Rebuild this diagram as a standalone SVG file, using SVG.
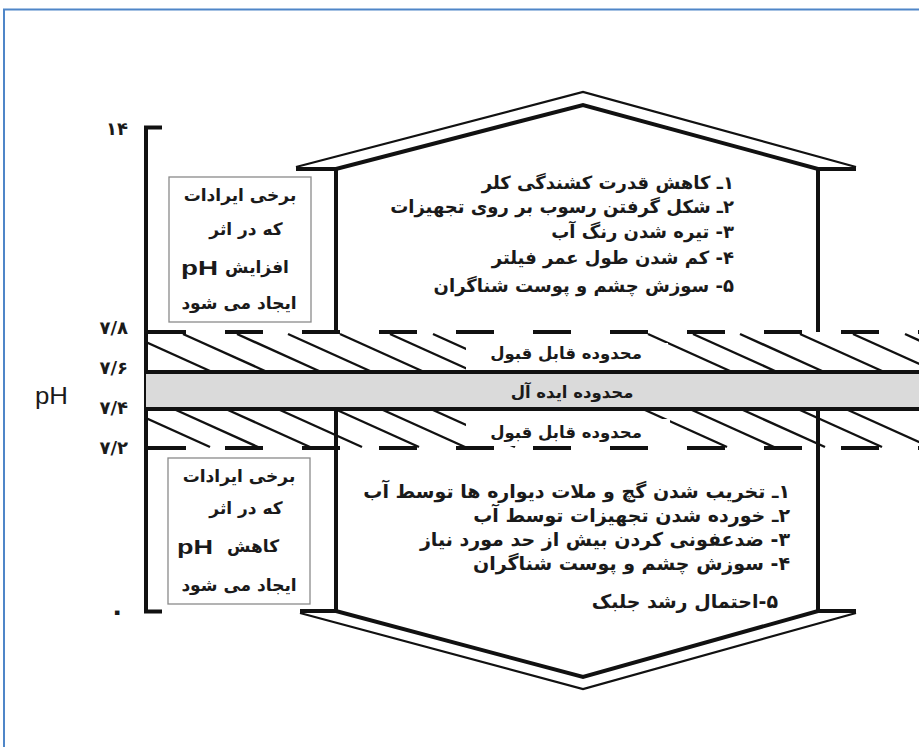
<svg xmlns="http://www.w3.org/2000/svg" width="919" height="747" viewBox="0 0 919 747">
<style>
.fa{font-family:"DejaVu Sans",sans-serif;font-weight:bold;fill:#1a1a1a;}
.lst{font-size:18px;direction:rtl;}
.lst2{font-size:19px;direction:rtl;}
.box{fill:#fff;stroke:#8a8a8a;stroke-width:1.3;}
.bx{font-size:17px;text-anchor:middle;direction:rtl;}
.ax{font-size:18px;text-anchor:end;}
.thk{stroke:#111;stroke-width:4;fill:none;}
.thn{stroke:#111;stroke-width:2.2;fill:none;}
.hatch{stroke:#111;stroke-width:2.4;}
.dash{stroke:#111;stroke-width:4;stroke-dasharray:38 39;}
.band{font-size:16.5px;text-anchor:middle;direction:rtl;}
.lat{font-family:"Liberation Sans",Arial,sans-serif;fill:#1a1a1a;}
</style>
<defs>
<clipPath id="bandclip"><rect x="148" y="330" width="771" height="125"/></clipPath>
</defs>
<rect x="0" y="0" width="919" height="747" fill="#fff"/>
<rect id="frame" x="4" y="9.5" width="940" height="760" fill="none" stroke="#4f86c8" stroke-width="2"/>

<g id="scale">
<path class="thk" d="M162,127.5 H146 V611.5 H162"/>
<text class="fa ax" x="128" y="135">۱۴</text>
<text class="fa ax" x="128" y="334">۷/۸</text>
<text class="fa ax" x="128" y="374">۷/۶</text>
<text class="fa ax" x="128" y="414">۷/۴</text>
<text class="fa ax" x="128" y="454">۷/۲</text>
<text class="fa" x="125" y="620" font-size="26" text-anchor="end">۰</text>
<text class="lat" x="35" y="404" font-size="24" textLength="33" lengthAdjust="spacingAndGlyphs">pH</text>
</g>

<g id="bands">
<rect x="146" y="373" width="773" height="36" fill="#dadada"/>
<g clip-path="url(#bandclip)">
<g id="hatch-upper" class="hatch">
<line x1="128" y1="334" x2="210" y2="371"/>
<line x1="183" y1="334" x2="265" y2="371"/>
<line x1="237" y1="334" x2="319" y2="371"/>
<line x1="288" y1="334" x2="370" y2="371"/>
<line x1="340" y1="334" x2="422" y2="371"/>
<line x1="390" y1="334" x2="472" y2="371"/>
<line x1="433" y1="334" x2="515" y2="371"/>
<line x1="648" y1="334" x2="730" y2="371"/>
<line x1="693" y1="334" x2="775" y2="371"/>
<line x1="740" y1="334" x2="822" y2="371"/>
<line x1="800" y1="334" x2="882" y2="371"/>
<line x1="853" y1="334" x2="935" y2="371"/>
<line x1="905" y1="334" x2="987" y2="371"/>
</g>
<g id="hatch-lower" class="hatch">
<line x1="128" y1="410" x2="210" y2="447"/>
<line x1="176" y1="410" x2="258" y2="447"/>
<line x1="228" y1="410" x2="310" y2="447"/>
<line x1="280" y1="410" x2="362" y2="447"/>
<line x1="337" y1="410" x2="419" y2="447"/>
<line x1="383" y1="410" x2="465" y2="447"/>
<line x1="433" y1="410" x2="515" y2="447"/>
<line x1="645" y1="410" x2="727" y2="447"/>
<line x1="692" y1="410" x2="774" y2="447"/>
<line x1="743" y1="410" x2="825" y2="447"/>
<line x1="800" y1="410" x2="882" y2="447"/>
<line x1="848" y1="410" x2="930" y2="447"/>
</g>
</g>
<rect x="466" y="343" width="202" height="27" fill="#fff"/>
<rect x="466" y="419" width="204" height="27" fill="#fff"/>
<line class="dash" x1="148" y1="332" x2="919" y2="332"/>
<line class="dash" x1="148" y1="448" x2="919" y2="448"/>
<line class="thk" x1="146" y1="372" x2="919" y2="372"/>
<line class="thk" x1="146" y1="409" x2="919" y2="409"/>
<text class="fa band" x="566" y="359">محدوده قابل قبول</text>
<text class="fa band" x="572" y="398">محدوده ایده آل</text>
<text class="fa band" x="566" y="438">محدوده قابل قبول</text>
</g>

<g id="upper-house">
<path class="thk" d="M336,332 V168"/>
<path class="thk" d="M818,332 V168"/>
<path class="thn" d="M296,167 L583,92 L856,167"/>
<path class="thk" d="M296,169 H336 L583,105 L818,169 H856"/>
<text class="fa lst" x="734" y="189">۱ـ کاهش قدرت کشندگی کلر</text>
<text class="fa lst" x="734" y="213">۲ـ شکل گرفتن رسوب بر روی تجهیزات</text>
<text class="fa lst" x="734" y="238">۳- تیره شدن رنگ آب</text>
<text class="fa lst" x="734" y="264">۴- کم شدن طول عمر فیلتر</text>
<text class="fa lst" x="734" y="292">۵- سوزش چشم و پوست شناگران</text>
</g>

<g id="upper-box">
<rect class="box" x="169" y="177" width="142" height="145"/>
<text class="fa bx" x="240" y="201">برخی ایرادات</text>
<text class="fa bx" x="246" y="235">که در اثر</text>
<text class="fa" x="257" y="273" font-size="17" text-anchor="middle" direction="rtl">افزایش</text>
<text class="lat" x="181" y="275" font-size="21" font-weight="bold" textLength="37" lengthAdjust="spacingAndGlyphs">pH</text>
<text class="fa bx" x="239" y="309">ایجاد می شود</text>
</g>

<g id="lower-house">
<path class="thk" d="M336,409 V611"/>
<path class="thk" d="M818,409 V611"/>
<path class="thk" d="M300,611 H336 L583,677 L818,611 H856"/>
<path class="thn" d="M300,613 L583,689 L856,613"/>
<text class="fa lst2" x="790" y="498">۱ـ تخریب شدن گچ و ملات دیواره ها توسط آب</text>
<text class="fa lst2" x="790" y="522">۲ـ خورده شدن تجهیزات توسط آب</text>
<text class="fa lst2" x="790" y="546">۳- ضدعفونی کردن بیش از حد مورد نیاز</text>
<text class="fa lst2" x="790" y="570">۴- سوزش چشم و پوست شناگران</text>
<text class="fa lst2" x="778" y="608">۵-احتمال رشد جلبک</text>
</g>

<g id="lower-box">
<rect class="box" x="168" y="458" width="142" height="146"/>
<text class="fa bx" x="239" y="482">برخی ایرادات</text>
<text class="fa bx" x="246" y="514">که در اثر</text>
<text class="fa" x="253" y="552" font-size="17" text-anchor="middle" direction="rtl">کاهش</text>
<text class="lat" x="177" y="554" font-size="21" font-weight="bold" textLength="36" lengthAdjust="spacingAndGlyphs">pH</text>
<text class="fa bx" x="239" y="591">ایجاد می شود</text>
</g>
</svg>
